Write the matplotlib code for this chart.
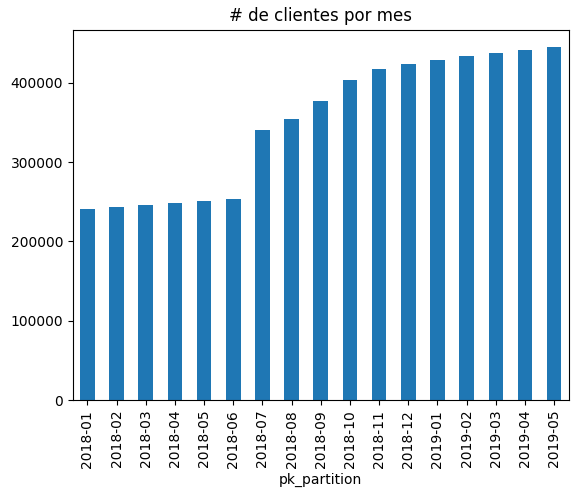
import matplotlib
matplotlib.use('Agg')
import matplotlib.pyplot as plt
import pandas as pd

months = ['2018-01', '2018-02', '2018-03', '2018-04', '2018-05', '2018-06',
          '2018-07', '2018-08', '2018-09', '2018-10', '2018-11', '2018-12',
          '2019-01', '2019-02', '2019-03', '2019-04', '2019-05']
clientes = [240300, 242900, 245400, 247900, 250400, 252900,
            339900, 353800, 376500, 402900, 416800, 423100,
            428200, 433200, 437000, 440800, 444500]

s = pd.Series(clientes, index=pd.Index(months, name='pk_partition'))

fig, ax = plt.subplots(figsize=(5.78, 4.97), dpi=100)
s.plot(kind='bar', ax=ax, color='#1f77b4')
ax.set_title('# de clientes por mes')
fig.subplots_adjust(left=0.126, right=0.984, top=0.940, bottom=0.195)
fig.savefig('out.png', dpi=100)
